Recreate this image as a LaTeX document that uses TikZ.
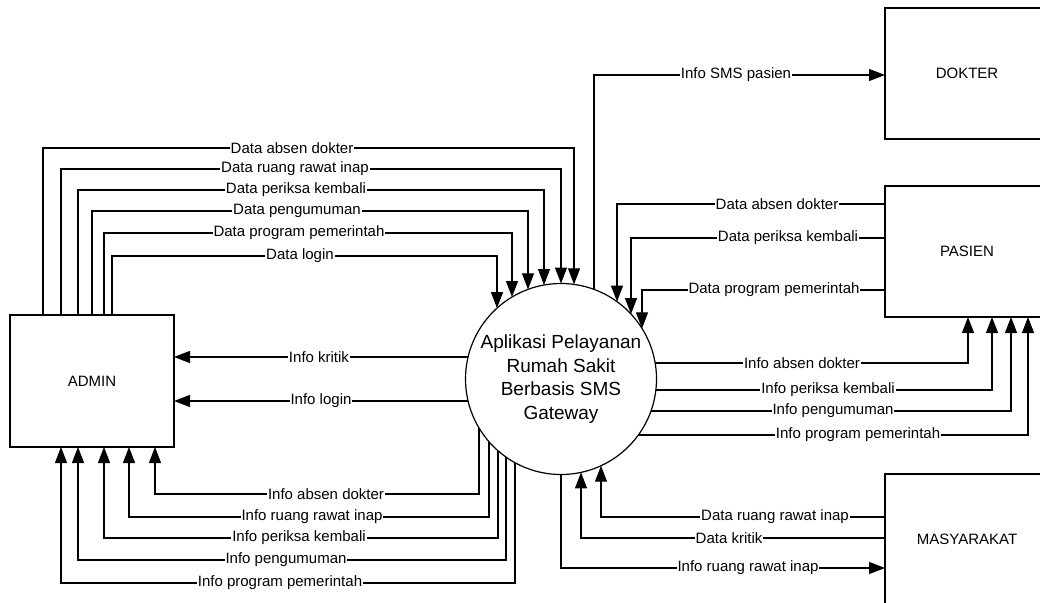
\documentclass[tikz,border=0pt]{standalone}
\usepackage{fontspec}
\setmainfont{Liberation Sans}
\usetikzlibrary{arrows.meta,calc}
\begin{document}
\def\crad{95.5}
\begin{tikzpicture}[x=1pt,y=-1pt,
  box/.style={draw, line width=1.2pt, inner sep=0pt, outer sep=0pt, minimum width=164pt, minimum height=131pt, font=\fontsize{15}{18}\selectfont},
  flow/.style={line width=1.1pt, -{Triangle[length=16pt,width=12pt]}},
  lbl/.style={fill=white, inner sep=1pt, font=\fontsize{15}{18}\selectfont}]
\useasboundingbox (0,0) rectangle (1040,602);
\clip (0,0) rectangle (1040,602);

% processes / entities
\node[box, minimum height=132pt] (A) at (92,381) {ADMIN};
\node[box] (D) at (967,73.5) {DOKTER};
\node[box] (S) at (967,251.5) {PASIEN};
\node[box] (M) at (967,539.5) {MASYARAKAT};
\node[circle, draw, line width=1.2pt, minimum size=191pt, inner sep=0pt, outer sep=0pt,
      align=center, font=\fontsize{19}{23.7}\selectfont] (P) at (561,379)
      {Aplikasi Pelayanan\\Rumah Sakit\\Berbasis SMS\\Gateway};

% ADMIN -> process (top)
\foreach \x/\y/\X/\lx/\txt [count=\i] in {43/148/574/292/Data absen dokter, 61/169/561/295/Data ruang rawat inap, 78/190/544/296/Data periksa kembali, 92/211/528/297/Data pengumuman, 104/233/512/299/Data program pemerintah, 112/256/497/300/Data login}{
  \draw[flow] ($(A.north west)+(\x-10,0)$) |- (\X,\y) -- ($(P.center)+(\X-561,{-sqrt(\crad*\crad-(\X-561)*(\X-561))})$);
  \node[lbl] (ad\i) at (\lx,\y) {\txt};
}

% process -> ADMIN (side)
\draw[flow] ($(P.center)+({-sqrt(\crad*\crad-22*22)},-22)$) -- ($(A.north east)+(0,42)$);
\node[lbl] (ik) at (319,357) {Info kritik};
\draw[flow] ($(P.center)+({-sqrt(\crad*\crad-22*22)},22)$) -- ($(A.north east)+(0,86)$);
\node[lbl] (il) at (321,401) {Info login};

% process -> ADMIN (bottom)
\foreach \x/\y/\X/\lx/\txt [count=\i] in {155/494/479/326/Info absen dokter, 129/517/489/312/Info ruang rawat inap, 104/538/498/299/Info periksa kembali, 78/560/506/286/Info pengumuman, 61/583/515/280/Info program pemerintah}{
  \draw[flow] ($(P.center)+(\X-561,{sqrt(\crad*\crad-(\X-561)*(\X-561))})$) |- (\x,\y) -- ($(A.south west)+(\x-10,0)$);
  \node[lbl] (ai\i) at (\lx,\y) {\txt};
}

% process -> DOKTER
\draw[flow] ($(P.center)+(33,{-sqrt(\crad*\crad-33*33)})$) |- ($(D.north west)+(0,67)$);
\node[lbl] (sms) at (736,75) {Info SMS pasien};

% PASIEN -> process
\foreach \y/\X/\lx/\txt [count=\i] in {204/617/777/Data absen dokter, 238/631/788/Data periksa kembali, 290/642/774/Data program pemerintah}{
  \draw[flow] ($(S.north west)+(0,\y-186)$) -| ($(P.center)+(\X-561,{-sqrt(\crad*\crad-(\X-561)*(\X-561))})$);
  \node[lbl] (pd\i) at (\lx,\y) {\txt};
}

% process -> PASIEN
\foreach \y/\X/\lx/\txt [count=\i] in {363/968/802/Info absen dokter, 390/992/828/Info periksa kembali, 411/1011/833/Info pengumuman, 435/1028/858/Info program pemerintah}{
  \draw[flow] ($(P.center)+({sqrt(\crad*\crad-(\y-379)*(\y-379))},\y-379)$) -| ($(S.south west)+(\X-885,0)$);
  \node[lbl] (pi\i) at (\lx,\y) {\txt};
}

% MASYARAKAT
\draw[flow] ($(M.north west)+(0,43)$) -| ($(P.center)+(40,{sqrt(\crad*\crad-40*40)})$);
\node[lbl] (mr) at (775,517) {Data ruang rawat inap};
\draw[flow] ($(M.north west)+(0,64)$) -| ($(P.center)+(20,{sqrt(\crad*\crad-20*20)})$);
\node[lbl] (mk) at (729,538) {Data kritik};
\draw[flow] (P.south) |- ($(M.north west)+(0,94)$);
\node[lbl] (mi) at (748,568) {Info ruang rawat inap};
\end{tikzpicture}
\end{document}
